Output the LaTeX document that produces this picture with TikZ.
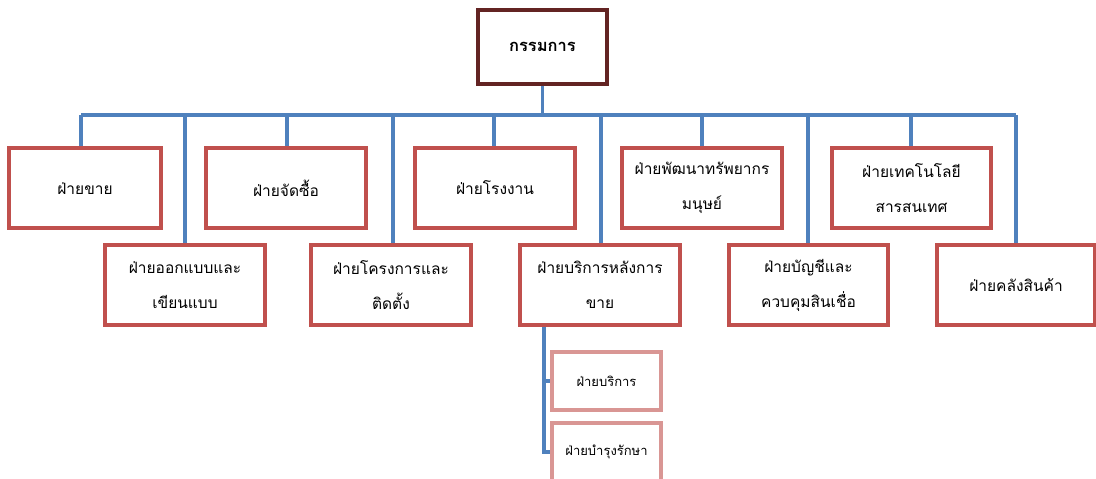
\documentclass[tikz,border=0pt]{standalone}
\usepackage{fontspec}
\newfontfamily\thai[Script=Thai]{Loma}
\definecolor{linkblue}{HTML}{4F81BD}
\definecolor{deptred}{HTML}{C0504D}
\definecolor{subred}{HTML}{D99694}
\definecolor{boardbrown}{HTML}{632423}
\tikzset{
  dept/.style={draw=deptred, line width=3.2pt, fill=white, minimum width=152pt,
    minimum height=80pt, inner sep=0pt, align=center,
    font=\thai\fontsize{15.5}{35}\selectfont},
  subdept/.style={draw=subred, line width=3.2pt, fill=white, minimum width=109pt,
    minimum height=58pt, inner sep=0pt, align=center,
    font=\thai\fontsize{13}{30}\selectfont},
  board/.style={draw=boardbrown, line width=3.4pt, fill=white, minimum width=129pt,
    minimum height=74pt, inner sep=0pt, align=center,
    font=\thai\bfseries\fontsize{16.5}{35}\selectfont},
  link/.style={draw=linkblue, line width=3.2pt}
}
\begin{document}
\begin{tikzpicture}[x=1pt,y=-1pt]
\useasboundingbox (0,0) rectangle (1096,479);
\clip (0,0) rectangle (1096,479);

% board of directors
\node[board] (top) at (542.5,47) {กรรมการ};

% departments, upper row
\node[dept] (sales) at (85,188) {ฝ่ายขาย};
\node[dept, minimum width=160pt] (purch) at (286,188) {ฝ่ายจัดซื้อ};
\node[dept, minimum width=160pt] (plant) at (495,188) {ฝ่ายโรงงาน};
\node[dept, minimum width=160pt] (hr) at (702,188) {ฝ่ายพัฒนาทรัพยากร\\มนุษย์};
\node[dept, minimum width=159pt] (it) at (911.5,188) {ฝ่ายเทคโนโลยี\\สารสนเทศ};

% departments, lower row
\node[dept, minimum width=160pt] (design) at (185,285) {ฝ่ายออกแบบและ\\เขียนแบบ};
\node[dept, minimum width=160pt] (proj) at (391,285) {ฝ่ายโครงการและ\\ติดตั้ง};
\node[dept, minimum width=160pt] (after) at (600,285) {ฝ่ายบริการหลังการ\\ขาย};
\node[dept, minimum width=159pt] (acct) at (808.5,285) {ฝ่ายบัญชีและ\\ควบคุมสินเชื่อ};
\node[dept, minimum width=158pt] (store) at (1016,285) {ฝ่ายคลังสินค้า};

% after-sales sub-units
\node[subdept] (svc) at (606.5,381) {ฝ่ายบริการ};
\node[subdept] (maint) at (606.5,452) {ฝ่ายบำรุงรักษา};

% bus taps
\coordinate (b1) at (81,115);
\coordinate (b2) at (185,115);
\coordinate (b3) at (287,115);
\coordinate (b4) at (393,115);
\coordinate (b5) at (494,115);
\coordinate (b6) at (601,115);
\coordinate (b7) at (702,115);
\coordinate (b8) at (808,115);
\coordinate (b9) at (911,115);
\coordinate (b10) at (1016,115);
\coordinate (trunk) at (544,400);

% connectors
\draw[link] (top.south) -- (top.south |- b1);
\draw[link] (b1) -- (b10);
\draw[link] (b1) -- (b1 |- sales.north);
\draw[link] (b2) -- (b2 |- design.north);
\draw[link] (b3) -- (b3 |- purch.north);
\draw[link] (b4) -- (b4 |- proj.north);
\draw[link] (b5) -- (b5 |- plant.north);
\draw[link] (b6) -- (b6 |- after.north);
\draw[link] (b7) -- (b7 |- hr.north);
\draw[link] (b8) -- (b8 |- acct.north);
\draw[link] (b9) -- (b9 |- it.north);
\draw[link] (b10) -- (b10 |- store.north);
\draw[link] (after.south -| trunk) |- (maint.west);
\draw[link] (svc.west -| trunk) -- (svc.west);
\end{tikzpicture}
\end{document}
